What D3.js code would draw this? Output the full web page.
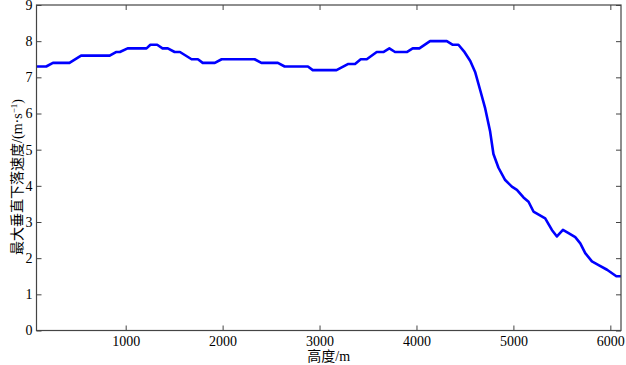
<!DOCTYPE html>
<html>
<head>
<meta charset="utf-8">
<script src="https://cdn.jsdelivr.net/npm/d3@7"></script>
<style>
    body { margin: 0; background: #fff; }
    svg { display: block; }
    .label { font-family: "Liberation Serif", "Noto Sans CJK SC", serif; font-size: 14px; fill: #000; }
</style>
</head>
<body>
<div id="chart"></div>
<script>
// heights (m)
var heights = [80, 180, 250, 420, 540, 835, 900, 940, 1020, 1215, 1255, 1325, 1380, 1435,
    1505, 1560, 1680, 1745, 1795, 1920, 1990, 2330, 2400, 2570, 2640, 2880, 2930, 3175,
    3297, 3366, 3425, 3487, 3590, 3658, 3720, 3779, 3900, 3961, 4030, 4140, 4313, 4375,
    4433, 4490, 4555, 4605, 4657, 4709, 4760, 4794, 4846, 4915, 4984, 5036, 5104, 5156,
    5207, 5328, 5397, 5449, 5511, 5569, 5638, 5690, 5741, 5810, 5879, 5966, 6062, 6110];
// max vertical falling speed (m/s)
var speeds = [7.3, 7.3, 7.4, 7.4, 7.6, 7.6, 7.7, 7.7, 7.8, 7.8, 7.9, 7.9, 7.8, 7.8,
    7.7, 7.7, 7.5, 7.5, 7.4, 7.4, 7.5, 7.5, 7.4, 7.4, 7.3, 7.3, 7.2, 7.2,
    7.37, 7.37, 7.5, 7.5, 7.7, 7.7, 7.8, 7.7, 7.7, 7.8, 7.8, 8.0, 8.0, 7.9,
    7.9, 7.72, 7.45, 7.15, 6.65, 6.14, 5.5, 4.88, 4.5, 4.16, 3.98, 3.89, 3.68, 3.56,
    3.29, 3.1, 2.78, 2.6, 2.78, 2.69, 2.58, 2.41, 2.14, 1.91, 1.81, 1.68, 1.5, 1.5];
var xTicks = [1000, 2000, 3000, 4000, 5000, 6000];
var yTicks = [0, 1, 2, 3, 4, 5, 6, 7, 8, 9];

var W = 626, H = 365;
var margin = {top: 5, right: 5, bottom: 34.5, left: 36.5};
var width = W - margin.left - margin.right,
    height = H - margin.top - margin.bottom;
var axisColor = '#444';
var tickFont = '"Liberation Serif", "Times New Roman", serif';

var svg = d3.select('#chart').append('svg')
    .attr('width', W)
    .attr('height', H);
var g = svg.append('g')
    .attr('transform', 'translate(' + margin.left + ',' + margin.top + ')');

var x = d3.scaleLinear().domain([80, 6110]).range([0, width]);
var y = d3.scaleLinear().domain([0, 9]).range([height, 0]);

// data line
var data = heights.map(function (h, i) { return {h: h, v: speeds[i]}; });
g.append('path')
    .datum(data)
    .attr('fill', 'none')
    .attr('stroke', '#0000ff')
    .attr('stroke-width', 2.6)
    .attr('stroke-linejoin', 'round')
    .attr('d', d3.line().x(function (d) { return x(d.h); }).y(function (d) { return y(d.v); }));

// axes, MATLAB style: ticks pointing inward on all four sides
function styleAxis(sel) {
    sel.attr('font-family', tickFont).attr('font-size', 14);
    sel.select('.domain').remove();
    sel.selectAll('.tick line').attr('stroke', axisColor);
    sel.selectAll('.tick text').attr('fill', '#000');
}
g.append('g')
    .attr('transform', 'translate(0,' + height + ')')
    .call(d3.axisBottom(x).tickValues(xTicks).tickSize(-5).tickPadding(6).tickFormat(d3.format('d')))
    .call(styleAxis);
g.append('g')
    .call(d3.axisTop(x).tickValues(xTicks).tickSize(-5).tickFormat(''))
    .call(styleAxis);
g.append('g')
    .call(d3.axisLeft(y).tickValues(yTicks).tickSize(-5).tickPadding(4))
    .call(styleAxis);
g.append('g')
    .attr('transform', 'translate(' + width + ',0)')
    .call(d3.axisRight(y).tickValues(yTicks).tickSize(-5).tickFormat(''))
    .call(styleAxis);

// box
g.append('rect')
    .attr('width', width)
    .attr('height', height)
    .attr('fill', 'none')
    .attr('stroke', axisColor)
    .attr('stroke-width', 1.2);

// axis labels
svg.append('text')
    .attr('class', 'label')
    .attr('x', margin.left + width / 2)
    .attr('y', 361)
    .attr('text-anchor', 'middle')
    .text('高度/m');

var yl = svg.append('text')
    .attr('class', 'label')
    .attr('text-anchor', 'middle')
    .attr('transform', 'translate(22,177) rotate(-90)');
yl.append('tspan').text('最大垂直下落速度/(m·s');
yl.append('tspan').attr('dy', -5).style('font-size', '9px').text('−1');
yl.append('tspan').attr('dy', 5).text(')');
</script>
</body>
</html>
